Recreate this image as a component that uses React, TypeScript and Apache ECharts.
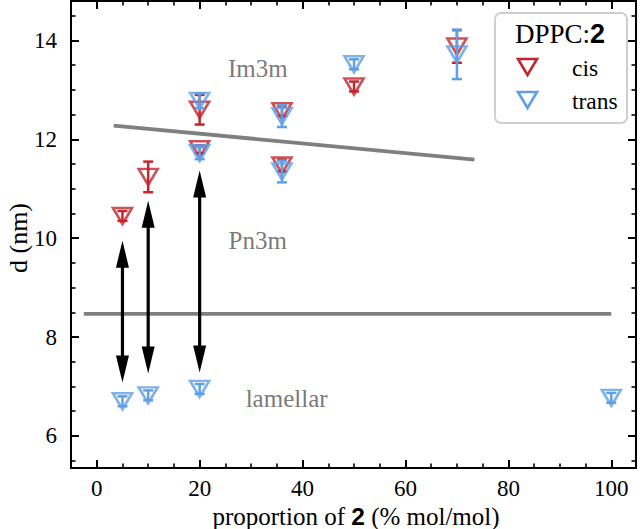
import React, { useEffect, useRef } from "react";
import * as echarts from "echarts";

// ---- data ----
const cisX = [5, 10, 20, 20, 36, 36, 50, 70];
const cisD = [10.45, 11.24, 12.6, 11.8, 12.57, 11.47, 13.07, 13.88];
const cisErr = [0.1, 0.31, 0.3, 0.08, 0.1, 0.12, 0.1, 0.33];

const transX = [5, 10, 20, 20, 20, 36, 36, 50, 70, 100];
const transD = [6.7, 6.82, 6.95, 11.72, 12.78, 12.47, 11.35, 13.52, 13.72, 6.77];
const transErr = [0.1, 0.1, 0.1, 0.12, 0.15, 0.22, 0.22, 0.1, 0.5, 0.1];

const arrowX = [5, 10, 20];
const arrowTop = [9.95, 10.76, 11.37];
const arrowBottom = [7.08, 7.26, 7.28];

const boundaryFlatX = [-2.5, 100];
const boundaryFlatY = [8.47, 8.47];
const boundarySlopedX = [3.3, 73.4];
const boundarySlopedY = [12.28, 11.59];

const phaseLabels = ["Im3m", "Pn3m", "lamellar"];
const phaseX = [31.3, 31.3, 36.9];
const phaseY = [13.43, 9.95, 6.75];

const RED = "#c3262d";
const BLUE = "#5e9fe6";
const GRAY = "#7f7f7f";
const SERIF = "'Liberation Serif', 'DejaVu Serif', serif";
const SANS = "'Liberation Sans', Arial, sans-serif";

const errRender = (color: string) => (params: any, api: any) => {
  const x = api.value(0);
  const y = api.value(1);
  const e = api.value(2);
  const top = api.coord([x, y + e]);
  const bot = api.coord([x, y - e]);
  const cw = 5;
  const st = { stroke: color, lineWidth: 2.5 };
  return {
    type: "group",
    children: [
      { type: "line", shape: { x1: top[0], y1: top[1], x2: bot[0], y2: bot[1] }, style: st },
      { type: "line", shape: { x1: top[0] - cw, y1: top[1], x2: top[0] + cw, y2: top[1] }, style: st },
      { type: "line", shape: { x1: bot[0] - cw, y1: bot[1], x2: bot[0] + cw, y2: bot[1] }, style: st },
    ],
  };
};

const arrowRender = (params: any, api: any) => {
  const x = api.value(0);
  const p1 = api.coord([x, api.value(1)]);
  const p2 = api.coord([x, api.value(2)]);
  const hl = 27;
  const hw = 6.5;
  const st = { fill: "#000" };
  return {
    type: "group",
    children: [
      {
        type: "line",
        shape: { x1: p1[0], y1: p1[1] + hl - 2, x2: p2[0], y2: p2[1] - hl + 2 },
        style: { stroke: "#000", lineWidth: 3.2 },
      },
      {
        type: "polygon",
        shape: { points: [[p1[0], p1[1]], [p1[0] - hw, p1[1] + hl], [p1[0] + hw, p1[1] + hl]] },
        style: st,
      },
      {
        type: "polygon",
        shape: { points: [[p2[0], p2[1]], [p2[0] - hw, p2[1] - hl], [p2[0] + hw, p2[1] - hl]] },
        style: st,
      },
    ],
  };
};

const isMult = (v: number, m: number) => Math.abs(v - Math.round(v / m) * m) < 1e-6;

export default function App() {
  const ref = useRef<HTMLDivElement>(null);
  useEffect(() => {
    if (!ref.current) return;
    const chart = echarts.init(ref.current, undefined, { renderer: "svg" });

    const tickCommon = (labels: boolean, mult: number, margin: number) => ({
      axisLine: { show: true, onZero: false, lineStyle: { color: "#000", width: 2 } },
      axisTick: { show: true, inside: true, length: 8, lineStyle: { color: "#000", width: 2 } },
      minorTick: { show: true, splitNumber: 4, length: 4.5, lineStyle: { color: "#000", width: 1.6 } },
      splitLine: { show: false },
      axisLabel: {
        show: labels,
        fontSize: 23,
        lineHeight: 20,
        fontFamily: SERIF,
        color: "#000",
        margin,
        formatter: (v: number) => (isMult(v, mult) ? String(Math.round(v)) : ""),
      },
    });

    const xMin = -5;
    const xMax = 104.8;
    const yMin = 5.35;
    const yMax = 14.8;

    const option: any = {
      animation: false,
      backgroundColor: "#fff",
      grid: { left: 71, right: 4, top: 1, bottom: 61, containLabel: false, outerBoundsMode: "none" },
      xAxis: [
        {
          type: "value",
          min: xMin,
          max: xMax,
          position: "bottom",
          ...tickCommon(true, 20, 10),
        },
        { type: "value", min: xMin, max: xMax, position: "top", ...tickCommon(false, 20, 8) },
      ],
      yAxis: [
        {
          type: "value",
          min: yMin,
          max: yMax,
          position: "left",
          ...tickCommon(true, 2, 14),
        },
        { type: "value", min: yMin, max: yMax, position: "right", ...tickCommon(false, 2, 8) },
      ],
      series: [
        {
          type: "line",
          data: boundaryFlatX.map((x, i) => [x, boundaryFlatY[i]]),
          symbol: "none",
          lineStyle: { color: GRAY, width: 3.8 },
          z: 1,
        },
        {
          type: "line",
          data: boundarySlopedX.map((x, i) => [x, boundarySlopedY[i]]),
          symbol: "none",
          lineStyle: { color: GRAY, width: 3.8 },
          z: 1,
        },
        {
          type: "custom",
          renderItem: arrowRender,
          data: arrowX.map((x, i) => [x, arrowTop[i], arrowBottom[i]]),
          encode: { x: 0, y: [1, 2] },
          z: 2,
        },
        {
          type: "custom",
          renderItem: errRender(RED),
          data: cisX.map((x, i) => [x, cisD[i], cisErr[i]]),
          encode: { x: 0, y: 1 },
          z: 3,
        },
        {
          type: "scatter",
          name: "cis",
          data: cisX.map((x, i) => [x, cisD[i]]),
          symbol: "triangle",
          symbolRotate: 180,
          symbolSize: [19, 16],
          itemStyle: { color: "rgba(0,0,0,0)", borderColor: RED, borderWidth: 2.6 },
          z: 4,
        },
        {
          type: "custom",
          renderItem: errRender(BLUE),
          data: transX.map((x, i) => [x, transD[i], transErr[i]]),
          encode: { x: 0, y: 1 },
          z: 5,
        },
        {
          type: "scatter",
          name: "trans",
          data: transX.map((x, i) => [x, transD[i]]),
          symbol: "triangle",
          symbolRotate: 180,
          symbolSize: [19, 16],
          itemStyle: { color: "rgba(0,0,0,0)", borderColor: BLUE, borderWidth: 2.6 },
          z: 6,
        },
        {
          type: "scatter",
          data: phaseX.map((x, i) => ({ value: [x, phaseY[i]], name: phaseLabels[i] })),
          symbolSize: 0,
          label: {
            show: true,
            position: "inside",
            formatter: (p: any) => p.name,
            fontSize: 25,
            fontFamily: SERIF,
            color: "#555",
          },
          silent: true,
          z: 7,
        },
      ],
      graphic: [
        {
          type: "text",
          x: 356,
          y: 516,
          style: {
            text: "proportion of {b|2} (% mol/mol)",
            font: `25px ${SERIF}`,
            fill: "#000",
            align: "center",
            verticalAlign: "middle",
            lineHeight: 22,
            rich: { b: { fontFamily: SANS, fontWeight: "bold", fontSize: 24.5, lineHeight: 22, fill: "#000" } },
          },
        },
        {
          type: "text",
          x: 18,
          y: 238,
          rotation: Math.PI / 2,
          style: {
            text: "d (nm)",
            font: `26px ${SERIF}`,
            fill: "#000",
            align: "center",
            verticalAlign: "middle",
          },
        },
        {
          type: "group",
          z: 100,
          children: [
            {
              type: "rect",
              shape: { x: 495, y: 13, width: 132, height: 110, r: 6 },
              style: { fill: "#fff", stroke: "#cfcfcf", lineWidth: 2 },
            },
            {
              type: "text",
              x: 515,
              y: 34,
              style: {
                text: "DPPC:{b|2}",
                font: `27px ${SERIF}`,
                fill: "#000",
                verticalAlign: "middle",
                rich: { b: { fontFamily: SANS, fontWeight: "bold", fontSize: 27, fill: "#000" } },
              },
            },
            {
              type: "polygon",
              shape: { points: [[518, 59], [537, 59], [527.5, 75]] },
              style: { fill: "none", stroke: RED, lineWidth: 2.6 },
            },
            {
              type: "polygon",
              shape: { points: [[518, 92], [537, 92], [527.5, 108]] },
              style: { fill: "none", stroke: BLUE, lineWidth: 2.6 },
            },
            {
              type: "text",
              x: 572,
              y: 68,
              style: { text: "cis", font: `23.5px ${SERIF}`, fill: "#000", verticalAlign: "middle" },
            },
            {
              type: "text",
              x: 572,
              y: 101,
              style: { text: "trans", font: `23.5px ${SERIF}`, fill: "#000", verticalAlign: "middle" },
            },
          ],
        },
      ],
    };
    chart.setOption(option);
    return () => chart.dispose();
  }, []);
  return (
    <div
      ref={ref}
      style={{ position: "fixed", left: 0, top: 0, width: 640, height: 529, background: "#fff" }}
    />
  );
}
